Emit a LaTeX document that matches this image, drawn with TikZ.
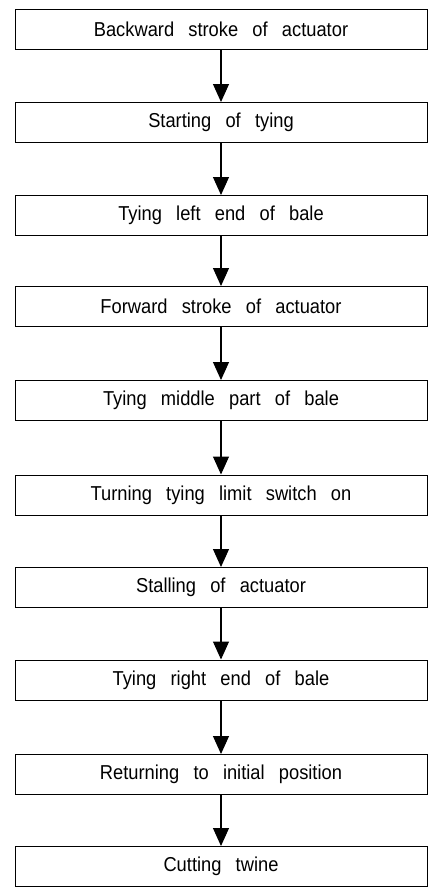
\documentclass[tikz,border=0pt]{standalone}
\usepackage{graphicx}
\usepackage{fontspec}
\setmainfont[WordSpace=2.8]{Liberation Sans}
\usetikzlibrary{arrows.meta}
\newcommand{\tallt}[1]{\scalebox{1}[1.1]{#1}}
\begin{document}
\begin{tikzpicture}[x=1pt,y=1pt,
  stepbox/.style={draw=black, line width=1pt, rectangle, minimum width=412pt, minimum height=40pt, inner sep=0pt,
    font=\fontsize{18.3}{21}\selectfont},
  flow/.style={line width=1.1pt, -{Triangle[width=16pt,length=18pt]}}]
\useasboundingbox (0,0) rectangle (429,-887);
\node[stepbox] (n1) at (221,-29) {\tallt{Backward stroke of actuator}};
\node[stepbox] (n2) at (221,-122.5) {\tallt{Starting of tying}};
\node[stepbox] (n3) at (221,-215.5) {\tallt{Tying left end of bale}};
\node[stepbox] (n4) at (221,-306.5) {\tallt{Forward stroke of actuator}};
\node[stepbox] (n5) at (221,-400.5) {\tallt{Tying middle part of bale}};
\node[stepbox] (n6) at (221,-495) {\tallt{Turning tying limit switch on}};
\node[stepbox] (n7) at (221,-587.5) {\tallt{Stalling of actuator}};
\node[stepbox] (n8) at (221,-680) {\tallt{Tying right end of bale}};
\node[stepbox] (n9) at (221,-774.5) {\tallt{Returning to initial position}};
\node[stepbox] (n10) at (221,-866.5) {\tallt{Cutting twine}};
\foreach \a/\b in {n1/n2,n2/n3,n3/n4,n4/n5,n5/n6,n6/n7,n7/n8,n8/n9,n9/n10}
  \draw[flow] (\a) -- (\b);
\end{tikzpicture}
\end{document}
